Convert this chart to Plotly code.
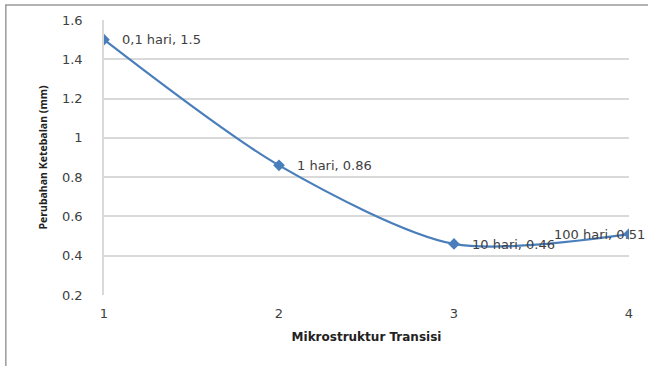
import plotly.graph_objects as go

# Thickness change per transition microstructure stage
stage = [1, 2, 3, 4]
durasi = ["0,1 hari", "1 hari", "10 hari", "100 hari"]
perubahan = [1.5, 0.86, 0.46, 0.51]
y_ticks = [0.2, 0.4, 0.6, 0.8, 1.0, 1.2, 1.4, 1.6]
y_tick_text = ["0.2", "0.4", "0.6", "0.8", "1", "1.2", "1.4", "1.6"]
x_ticks = [1, 2, 3, 4]

blue = "#4A7EBB"
font_family = "DejaVu Sans, sans-serif"
title_family = "Open Sans, sans-serif"

fig = go.Figure()
fig.add_trace(go.Scatter(
    x=stage, y=perubahan,
    mode="lines+markers",
    line=dict(color=blue, width=2.2, shape="spline", smoothing=0.8),
    marker=dict(symbol="diamond", size=9, color=blue),
    hoverinfo="skip",
))

# data labels placed beside each point
label_shift = [(16, 0), (16, 0), (16, -1), (-30, 0)]
for xi, yi, d, (dx, dy) in zip(stage, perubahan, durasi, label_shift):
    fig.add_annotation(
        x=xi, y=yi, text=f"{d}, {yi:g}",
        xref="x", yref="y", showarrow=False,
        xanchor="left" if dx > 0 else "center", yanchor="middle",
        xshift=dx, yshift=dy,
        font=dict(family=font_family, size=13, color="#404040"),
    )

# outer chart border
fig.add_shape(type="rect", xref="paper", yref="paper",
              x0=-0.187, x1=1.05, y0=-0.27, y1=1.055,
              line=dict(color="#9a9a9a", width=1.5), layer="below")

fig.update_layout(
    width=648, height=366,
    margin=dict(l=104, r=19, t=20, b=71),
    paper_bgcolor="white", plot_bgcolor="white",
    showlegend=False,
    font=dict(family=font_family, color="#404040"),
    xaxis=dict(
        range=[1, 4], tickvals=x_ticks, showgrid=False, zeroline=False,
        showline=False, ticks="", tickfont=dict(size=13, color="#404040"),
        ticklabelstandoff=9,
        title=dict(text="<b>Mikrostruktur Transisi</b>",
                   font=dict(family=font_family, size=12, color="#222"),
                   standoff=12),
    ),
    yaxis=dict(
        range=[0.2, 1.6], tickvals=y_ticks, ticktext=y_tick_text,
        showgrid=True, gridcolor="#d9d9d9", gridwidth=1.5, zeroline=False,
        showline=True, linecolor="#d9d9d9", linewidth=1.5, ticks="",
        tickfont=dict(size=13, color="#404040"), ticklabelstandoff=17,
        title=dict(text="<b>Perubahan Ketebalan (mm)</b>",
                   font=dict(family=title_family, size=10.5, color="#222"),
                   standoff=12),
    ),
)

fig.write_html("out.html")
